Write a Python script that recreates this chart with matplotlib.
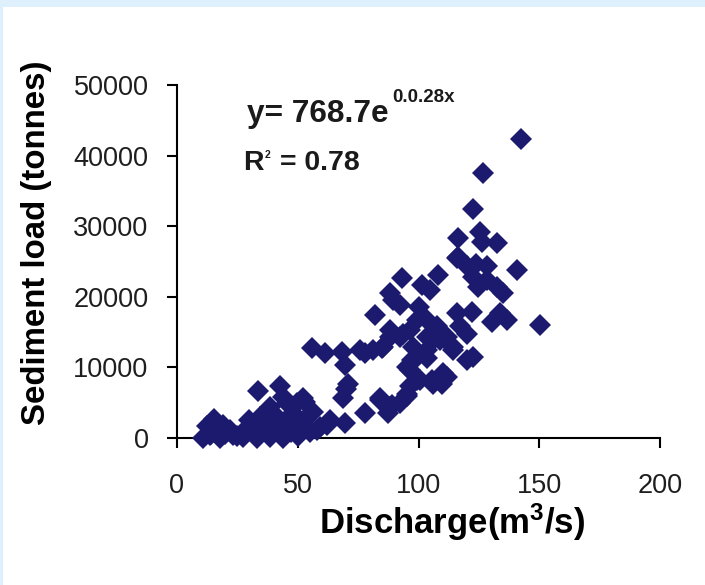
import matplotlib
matplotlib.use("Agg")
import matplotlib.pyplot as plt
from matplotlib.patches import Rectangle

# ---- data ----
discharge = [
    10.9, 12.3, 13.7, 15.5, 17.8, 19.2, 22.0, 23.3, 14.0, 16.0, 20.0, 25.0,
    27.5, 28.9, 33.0, 33.7, 34.4, 34.4, 37.1, 38.5, 38.5, 39.9, 41.3, 42.6,
    44.0, 44.0, 45.4, 46.8, 48.2, 49.5, 52.3, 52.3, 53.0, 53.7, 55.0, 56.4,
    57.8, 59.2, 62.0, 63.4, 30.0, 36.0, 42.0, 47.0, 31.0, 40.0, 50.0,
    55.8, 61.3, 68.2, 69.6, 77.8, 84.8, 70.9, 68.8, 70.0, 84.0, 88.9, 77.8,
    69.6, 82.0,
    93.0, 108.2, 88.2, 101.3, 104.8, 92.3, 100.0, 89.6, 99.2, 103.4, 107.5,
    115.8, 122.0, 117.2, 120.0, 96.5, 93.7, 88.2, 75.8, 81.3, 85.4, 97.9,
    103.4, 108.9, 114.4, 97.2, 103.4, 96.5, 99.2, 105.4, 111.7, 109.6, 96.5,
    95.1, 84.0, 88.2, 92.3, 87.5, 95.1, 100.6, 110.2, 106.2, 95.1, 99.2,
    92.3, 88.2, 106.2, 111.7, 103.4, 114.4,
    142.4, 126.8, 122.7, 116.5, 125.5, 126.2, 132.4, 140.7, 150.3, 116.5,
    120.0, 124.0, 128.2, 122.7, 128.2, 124.8, 132.4, 135.1, 133.7, 130.3,
    136.5, 122.7, 120.0, 115.8,
]
sediment = [
    0, 1700, 430, 2700, 0, 1800, 1100, 400, 500, 1200, 600, 300,
    200, 1400, 0, 6600, 3000, 1100, 3500, 4400, 200, 1600, 3000, 7300,
    5800, 0, 4900, 1800, 3500, 4900, 5600, 2100, 5100, 3000, 900, 3700,
    1100, 1600, 1800, 2500, 2500, 2200, 2200, 800, 800, 1000, 300,
    12700, 12000, 12200, 10300, 12000, 12700, 7700, 5600, 7000, 5600, 4700, 3500,
    2100, 17400,
    22600, 23100, 20500, 21700, 21000, 18800, 18600, 19500, 16700, 16700, 15800,
    17700, 17900, 15800, 14800, 15300, 14800, 15300, 12500, 12500, 12900, 12900,
    14300, 13900, 12900, 11000, 11300, 9600, 8200, 8200, 8700, 7700, 7300,
    6300, 5400, 4400, 4900, 3500, 5900, 8200, 9200, 7700, 10100, 11500,
    14300, 14300, 13900, 14300, 12500, 12500,
    42300, 37500, 32500, 28300, 29200, 27800, 27600, 23800, 16000, 25700,
    24300, 24700, 24300, 22800, 22400, 21400, 21400, 20500, 17700, 16500,
    16700, 11500, 11000, 25500,
]
x_ticks = [0, 50, 100, 150, 200]
y_ticks = [0, 10000, 20000, 30000, 40000, 50000]
x_label = "Discharge(m$^3$/s)"
y_label = "Sediment load (tonnes)"
eq_main = "y= 768.7e"
eq_sup = "0.0.28x"
r2_main = "R"
r2_sup = "2"
r2_rest = "= 0.78"

W, H = 705, 585
fig = plt.figure(figsize=(W / 100, H / 100), dpi=100)
fig.patch.set_facecolor("#ddf0fb")
bg = Rectangle((3 / W, 0), 1 - 3 / W, 1 - 7 / H,
               transform=fig.transFigure, facecolor="white",
               edgecolor="none", zorder=-10)
fig.patches.append(bg)

def fx(px):
    return px / W

def fy(py):
    return 1 - py / H

ax = fig.add_axes([fx(177), fy(438), (660 - 177) / W, (438 - 85) / H])
ax.set_zorder(5)
ax.set_facecolor("none")
ax.plot(discharge, sediment, linestyle="none", marker="D", markersize=10.8,
        color="#1b1a6e", markeredgewidth=0, clip_on=False, zorder=3)

ax.set_xlim(0, 200)
ax.set_ylim(0, 50000)
ax.set_xticks(x_ticks)
ax.set_yticks(y_ticks)
ax.set_xticklabels([str(v) for v in x_ticks])
ax.set_yticklabels([str(v) for v in y_ticks])
for s in ("top", "right"):
    ax.spines[s].set_visible(False)
for s in ("left", "bottom"):
    ax.spines[s].set_linewidth(1.5)
    ax.spines[s].set_color("black")
ax.tick_params(axis="both", direction="out", length=7.5, width=1.5,
               colors="black", labelcolor="#1e1e1e", labelsize=19.5)
ax.tick_params(axis="x", pad=18)
ax.tick_params(axis="y", pad=13)
for lab in ax.get_xticklabels() + ax.get_yticklabels():
    lab.set_fontfamily("Liberation Sans")

plt.rcParams["mathtext.fontset"] = "custom"
plt.rcParams["mathtext.rm"] = "Liberation Sans:bold"
plt.rcParams["mathtext.it"] = "Liberation Sans:bold"
plt.rcParams["mathtext.bf"] = "Liberation Sans:bold"

fig.text(fx(452), fy(522), x_label, ha="center", va="center",
         fontsize=25, fontweight="bold", family="Liberation Sans")
fig.text(fx(37), fy(243), y_label, ha="center", va="center", rotation=90,
         fontsize=23.8, fontweight="bold", family="Liberation Sans")

bold = dict(fontweight="bold", family="Liberation Sans", color="#1a1a1a")
fig.text(fx(247), fy(122), eq_main, ha="left", va="baseline", fontsize=22.8, **bold)
fig.text(fx(392), fy(102), eq_sup, ha="left", va="baseline", fontsize=13.5, **bold)
fig.text(fx(243), fy(170), r2_main, ha="left", va="baseline", fontsize=20.5, **bold)
fig.text(fx(265), fy(158), r2_sup, ha="left", va="baseline", fontsize=7.5, **bold)
fig.text(fx(280), fy(170), r2_rest, ha="left", va="baseline", fontsize=20.5, **bold)

fig.savefig("out.png", dpi=100, facecolor=fig.get_facecolor())
